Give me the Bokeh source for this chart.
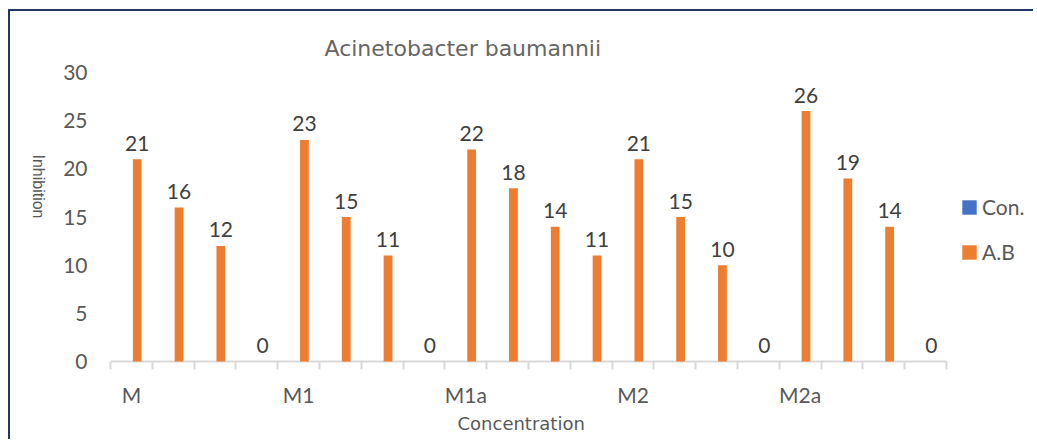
import math
from bokeh.plotting import figure
from bokeh.models import (ColumnDataSource, FixedTicker, Legend, LegendItem, Range1d, Title)
from bokeh.core.properties import value
from bokeh.embed import file_html
from bokeh.resources import INLINE

# ---- data ----
groups = ["M", "M1", "M1a", "M2", "M2a"]
per_group = 4
nan = float("nan")
con_values = [nan, nan, nan, nan, nan, nan, nan, nan, nan, nan,
              nan, nan, nan, nan, nan, nan, nan, nan, nan, nan]
ab_values = [21, 16, 12, 0, 23, 15, 11, 0, 22, 18, 14, 11, 21, 15, 10, 0, 26, 19, 14, 0]
y_ticks = [0, 5, 10, 15, 20, 25, 30]

title_text = "Acinetobacter baumannii"
x_title = "Concentration"
y_title = "Inhibition"

# ---- styling ----
ORANGE = "#ED7D31"
BLUE = "#4472C4"
GRAY = "#595959"
DARK = "#404040"
AXIS = "#D9D9D9"
NUM_FONT = "Lato"
WIDE_FONT = "DejaVu Sans"

n = len(ab_values)
slot_x = [i + 0.5 for i in range(n)]
dodge = 0.14
bar_w = 0.21
legend_room = 2.13   # extra x-range (in slots) on the right that holds the legend

src = ColumnDataSource(dict(
    x_con=[x - dodge for x in slot_x],
    x_ab=[x + dodge for x in slot_x],
    con=con_values,
    ab=ab_values,
    ab_txt=[str(v) for v in ab_values],
))

p = figure(width=1025, height=430, x_range=Range1d(0, n + legend_room),
           y_range=Range1d(-0.3, 30),
           output_backend="svg", toolbar_location=None,
           min_border_left=100, min_border_right=0, min_border_top=61, min_border_bottom=77)
p.styles = {"border-top": "2px solid #1F3864", "border-left": "2px solid #1F3864",
            "margin-left": "8px", "margin-top": "9px"}

# category axis baseline (only under the 20 category slots)
p.segment(x0=[0], x1=[n], y0=[0], y1=[0], line_color=AXIS, line_width=2)

r_con = p.vbar(x="x_con", top="con", bottom=0, width=bar_w, source=src,
               fill_color=BLUE, line_color=None)
r_ab = p.vbar(x="x_ab", top="ab", bottom=0, width=bar_w, source=src,
              fill_color=ORANGE, line_color=None)

p.text(x="x_ab", y="ab", text="ab_txt", source=src, text_align="center",
       text_baseline="alphabetic", y_offset=-16, text_font=value(NUM_FONT),
       text_font_size="21px", text_color=DARK)

p.xgrid.visible = False
p.ygrid.visible = False
p.outline_line_color = None

# title
p.title.text = title_text
p.title.align = "left"
p.title.offset = 214
p.title.text_font = WIDE_FONT
p.title.text_font_size = "22px"
p.title.text_font_style = "normal"
p.title.text_color = "#666666"
p.title.standoff = 24

# x axis
label_ticks = [g * per_group + 0.5 for g in range(len(groups))]
p.xaxis.ticker = FixedTicker(ticks=label_ticks, minor_ticks=list(range(n + 1)))
p.xaxis.major_label_overrides = {t: g for t, g in zip(label_ticks, groups)}
p.xaxis.major_tick_out = 0
p.xaxis.major_tick_in = 0
p.xaxis.minor_tick_out = 5
p.xaxis.minor_tick_in = 3
p.xaxis.minor_tick_line_color = AXIS
p.xaxis.minor_tick_line_width = 2
p.xaxis.axis_line_color = None
p.xaxis.major_label_standoff = 12
p.xaxis.major_label_text_font = NUM_FONT
p.xaxis.major_label_text_font_size = "21px"
p.xaxis.major_label_text_color = GRAY

p.add_layout(Title(text=x_title, align="left", offset=347, text_font=WIDE_FONT,
                   text_font_size="18px", text_font_style="normal",
                   text_color=GRAY, standoff=2), "below")

# y axis
p.yaxis.ticker = FixedTicker(ticks=y_ticks)
p.yaxis.major_tick_out = 0
p.yaxis.major_tick_in = 0
p.yaxis.minor_tick_out = 0
p.yaxis.minor_tick_in = 0
p.yaxis.axis_line_color = None
p.yaxis.major_label_standoff = 23
p.yaxis.major_label_text_font = NUM_FONT
p.yaxis.major_label_text_font_size = "21px"
p.yaxis.major_label_text_color = GRAY
p.yaxis.axis_label = y_title
p.yaxis.axis_label_text_font = "Liberation Sans"
p.yaxis.axis_label_text_font_size = "16px"
p.yaxis.axis_label_text_font_style = "normal"
p.yaxis.axis_label_text_color = GRAY
p.yaxis.axis_label_text_align = "center"
p.yaxis.axis_label_standoff = 22
try:
    p.yaxis[0].axis_label_orientation = -math.pi / 2
except Exception:
    pass

legend = Legend(items=[LegendItem(label="Con.", renderers=[r_con]),
                       LegendItem(label="A.B", renderers=[r_ab])],
                location=(850, 100), orientation="vertical",
                glyph_width=18, glyph_height=18, label_height=20, spacing=20,
                padding=0, margin=0, label_standoff=4,
                label_text_font=NUM_FONT, label_text_font_size="21px",
                label_text_color=GRAY, border_line_color=None,
                background_fill_alpha=0)
p.add_layout(legend, "center")

open("out.html", "w").write(file_html(p, INLINE))
